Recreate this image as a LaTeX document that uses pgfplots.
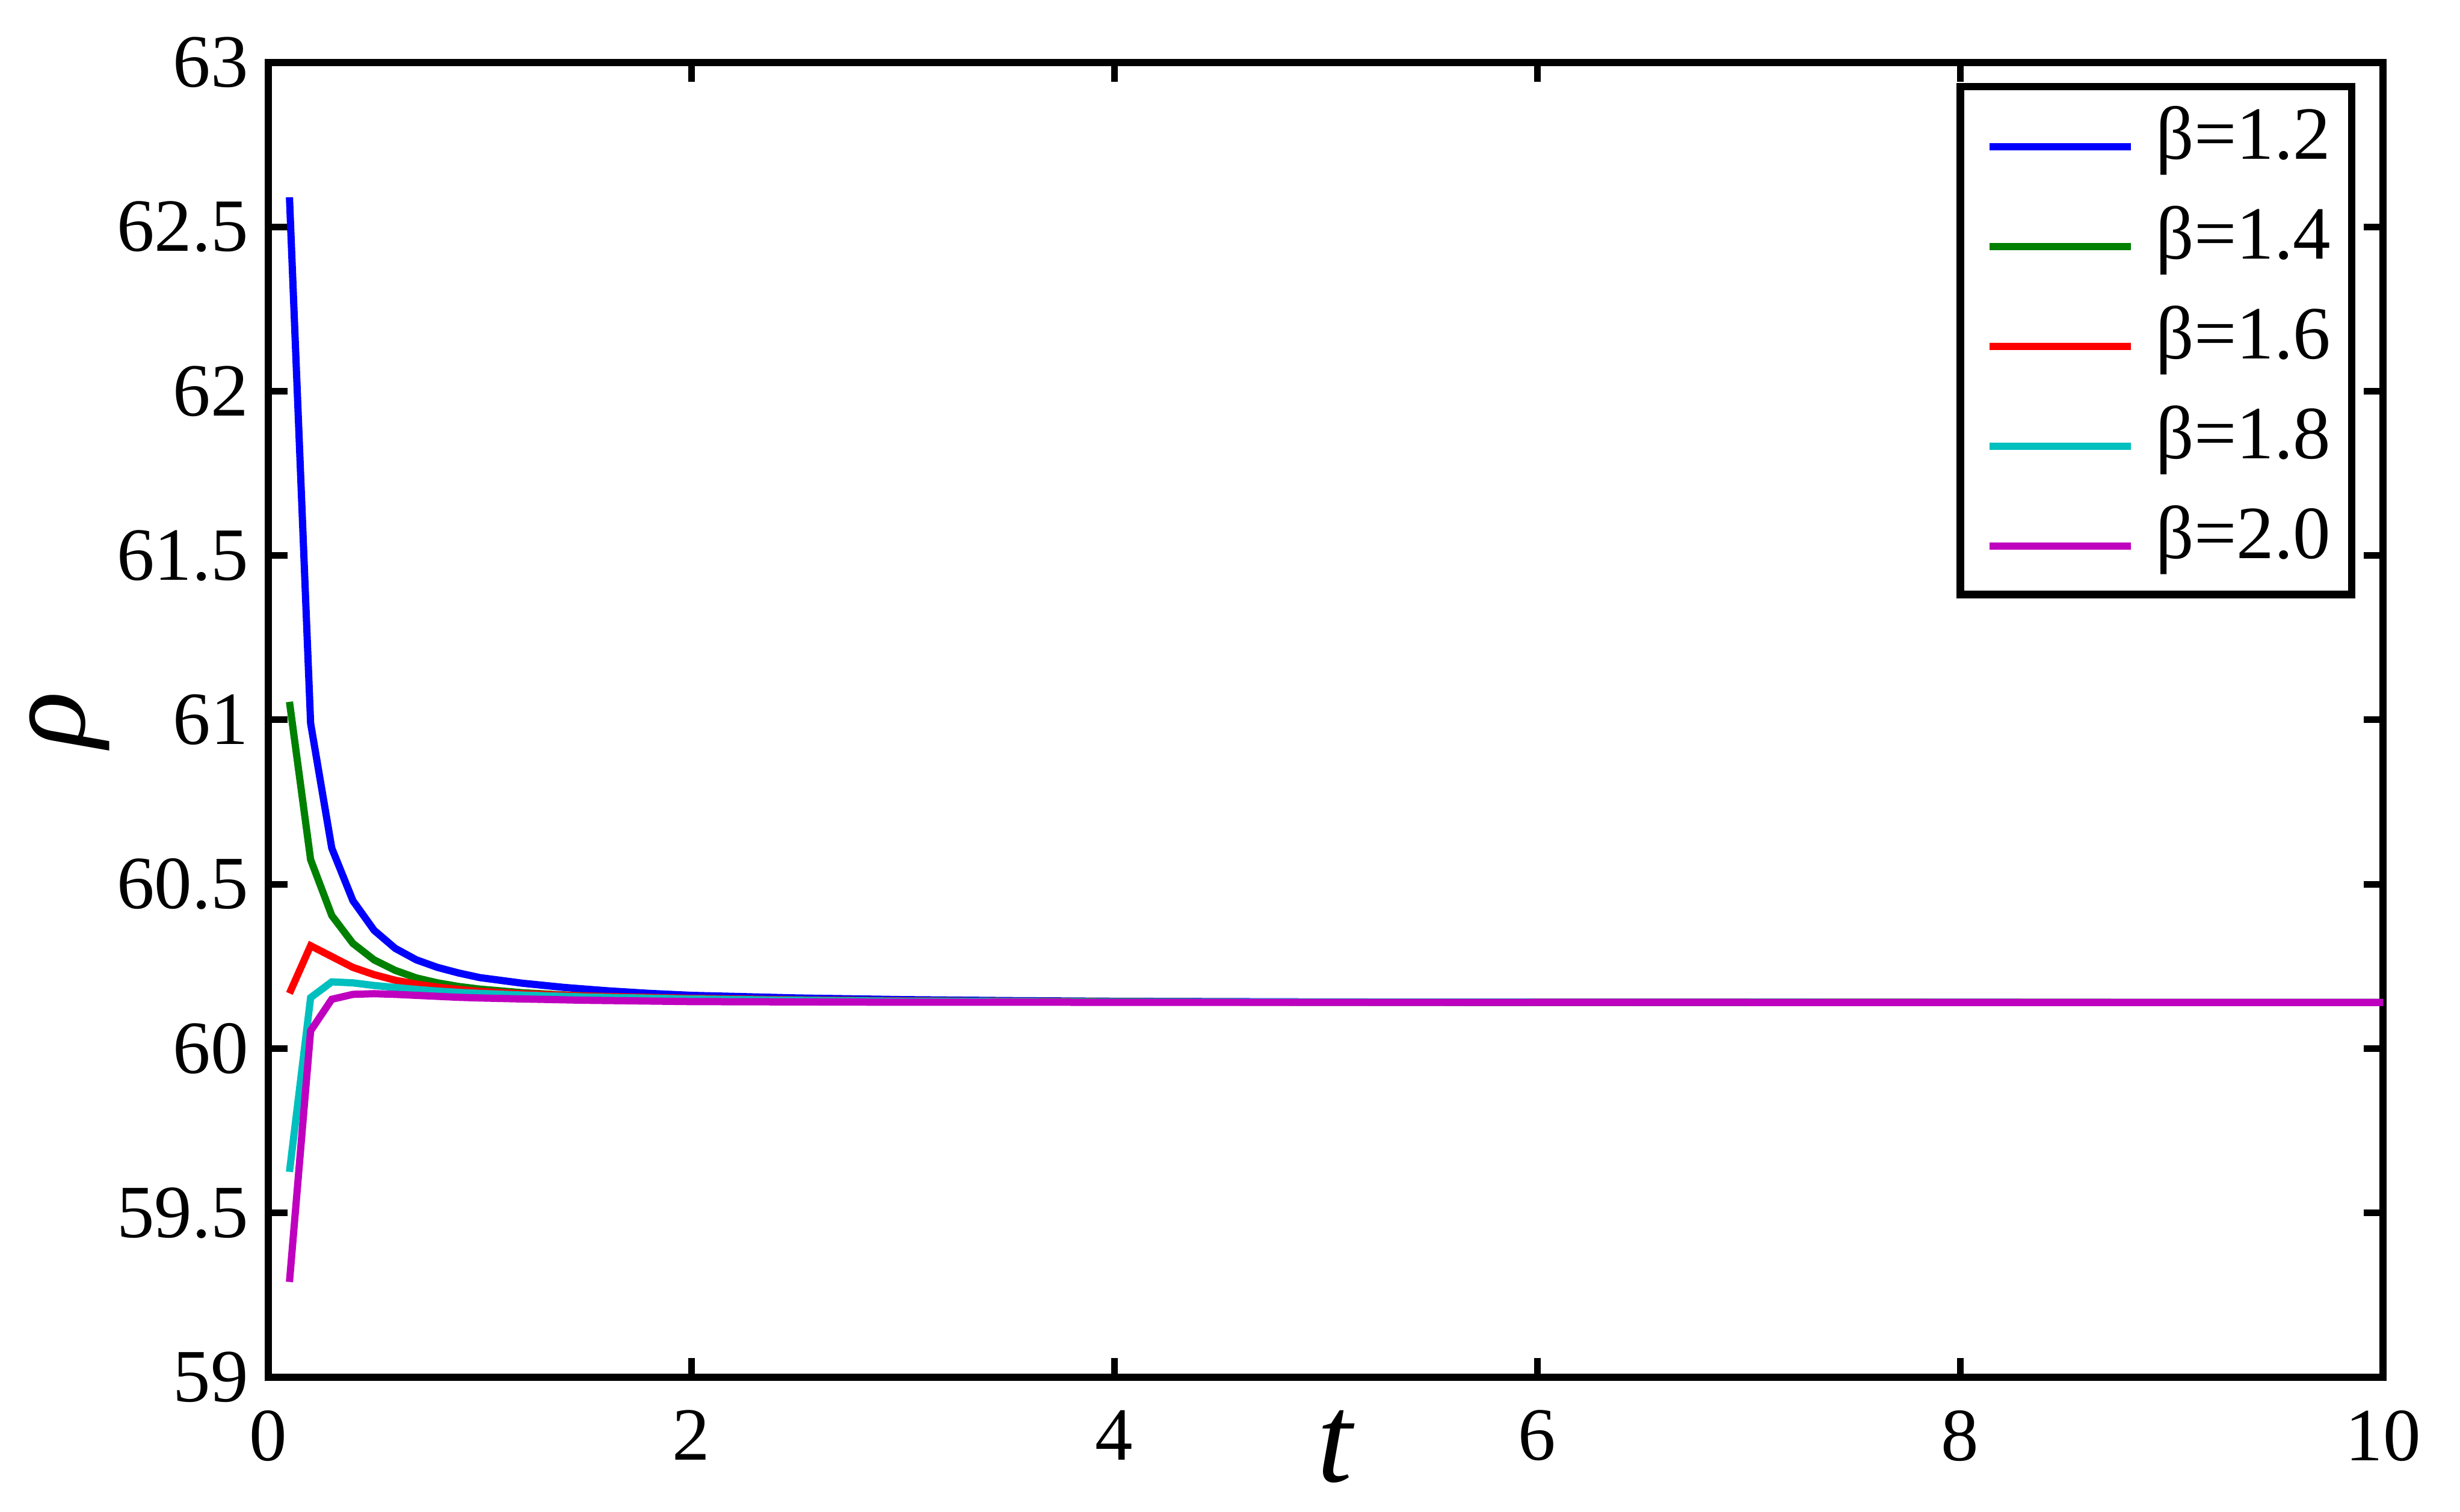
\documentclass[border=0pt]{standalone}
\usepackage{fontspec}
\setmainfont{Liberation Serif}
\usepackage{pgfplots}
\pgfplotsset{compat=1.18}
\definecolor{mgreen}{rgb}{0,0.5,0}
\definecolor{mcyan}{rgb}{0,0.75,0.75}
\definecolor{mmag}{rgb}{0.75,0,0.75}
\newcommand\tk{\fontsize{12.5}{15}\selectfont}

\begin{document}
\begin{tikzpicture}
\begin{axis}[
    scale only axis,
    width=351.5pt, height=218.6pt,
    xmin=0, xmax=10, ymin=59, ymax=63,
    xtick={0,2,4,6,8,10},
    ytick={59,59.5,60,60.5,61,61.5,62,62.5,63},
    tick align=inside,
    major tick length=3.2pt,
    every tick/.style={black, line width=1.1pt},
    axis line style={line width=1.2pt},
    tick label style={font=\tk},
    /pgf/number format/assume math mode=true,
    xticklabel style={inner ysep=5.3pt},
    yticklabel style={inner xsep=3.1pt},
    xlabel={\textit{t}},
    ylabel={\textit{ρ}},
    xlabel style={at={(axis description cs:0.505,-0.0242)}, anchor=north, inner sep=0pt,
        font=\fontsize{21}{25}\selectfont},
    ylabel style={at={(axis description cs:-0.094,0.5)}, anchor=center, inner sep=0pt,
        font=\fontsize{19.5}{23}\selectfont},
    every axis plot/.append style={line width=1.2pt},
    legend cell align=left,
    legend style={at={(axis description cs:1,1)}, anchor=north east,
        xshift=-4.6pt, yshift=-3.4pt, draw=black, line width=1.25pt,
        inner xsep=0pt, inner ysep=1pt, row sep=0.6pt, font=\tk,
        nodes={inner xsep=3.5pt, inner ysep=2pt, text height=9pt, text depth=3pt}},
    legend image code/.code={
        \path[draw=none,fill=none] (0pt,0pt) -- (4.9pt,0pt);
        \draw[#1,line width=1.2pt] (4.9pt,-1pt) -- (28.4pt,-1pt);},
]
\addplot[blue] coordinates {
 (0.1,62.59) (0.2,60.99) (0.3,60.61) (0.4,60.45) (0.5,60.36) (0.6,60.305)
 (0.7,60.27) (0.8,60.247) (0.9,60.23) (1.0,60.216) (1.2,60.199) (1.4,60.186)
 (1.6,60.176) (1.8,60.168) (2.0,60.162) (2.5,60.154) (3.0,60.149) (3.5,60.146)
 (4.0,60.144) (5.0,60.142) (6.0,60.141) (10,60.14)};
\addlegendentry{β=1.2}
\addplot[mgreen] coordinates {
 (0.1,61.055) (0.2,60.575) (0.3,60.405) (0.4,60.32) (0.5,60.27) (0.6,60.238)
 (0.7,60.215) (0.8,60.2) (0.9,60.189) (1.0,60.181) (1.2,60.17) (1.4,60.163)
 (1.6,60.158) (1.8,60.155) (2.0,60.152) (2.5,60.148) (3.0,60.145) (4.0,60.143)
 (5.0,60.141) (10,60.14)};
\addlegendentry{β=1.4}
\addplot[red] coordinates {
 (0.1,60.168) (0.2,60.313) (0.3,60.28) (0.4,60.247) (0.5,60.225) (0.6,60.208)
 (0.7,60.196) (0.8,60.187) (0.9,60.18) (1.0,60.174) (1.2,60.167) (1.5,60.16)
 (2.0,60.153) (2.5,60.148) (3.0,60.145) (4.0,60.142) (10,60.14)};
\addlegendentry{β=1.6}
\addplot[mcyan] coordinates {
 (0.1,59.625) (0.2,60.155) (0.3,60.203) (0.4,60.2) (0.5,60.192) (0.6,60.186)
 (0.7,60.18) (0.8,60.175) (0.9,60.171) (1.0,60.168) (1.2,60.163) (1.5,60.157)
 (2.0,60.151) (2.5,60.147) (3.0,60.144) (4.0,60.142) (10,60.14)};
\addlegendentry{β=1.8}
\addplot[mmag] coordinates {
 (0.1,59.29) (0.2,60.054) (0.3,60.15) (0.4,60.165) (0.5,60.167) (0.6,60.165)
 (0.7,60.162) (0.8,60.159) (0.9,60.156) (1.0,60.154) (1.2,60.151) (1.5,60.147)
 (2.0,60.143) (3.0,60.141) (10,60.14)};
\addlegendentry{β=2.0}
\coordinate (bl) at (rel axis cs:0,0);
\coordinate (tr) at (rel axis cs:1,1);
\end{axis}
\path ([shift={(-44.6pt,-22.3pt)}]bl) rectangle ([shift={(12.8pt,10.4pt)}]tr);
\end{tikzpicture}
\end{document}
